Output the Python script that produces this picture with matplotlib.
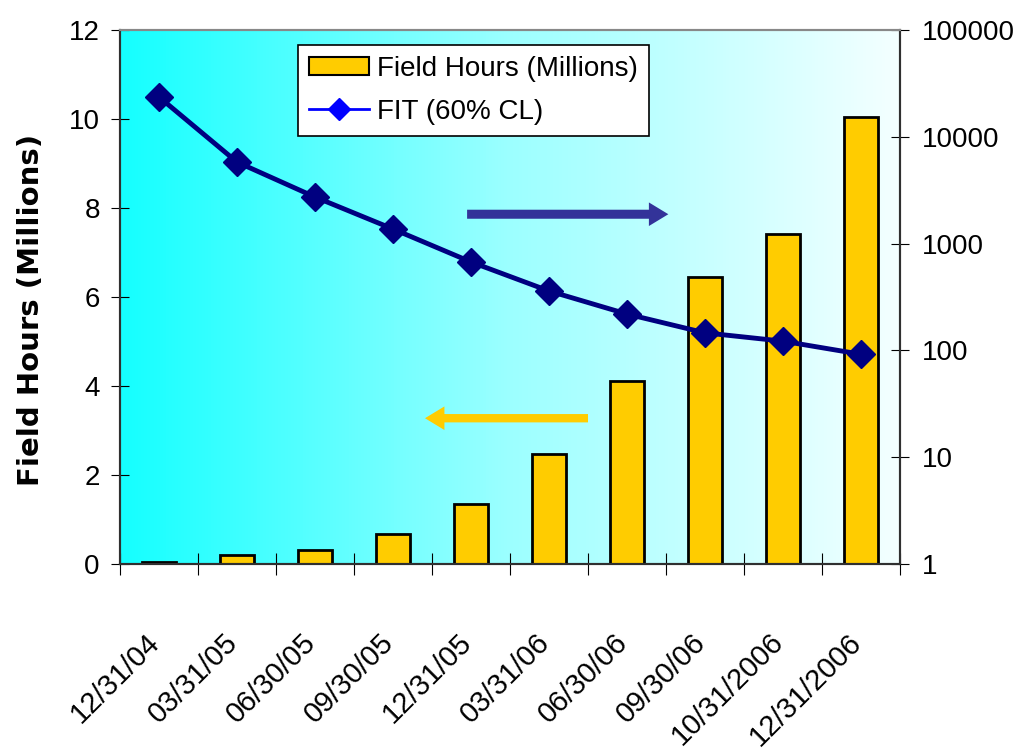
import numpy as np
import matplotlib.pyplot as plt
from matplotlib.colors import LinearSegmentedColormap
from matplotlib.lines import Line2D
from matplotlib.patches import Patch
from matplotlib.ticker import FixedLocator, NullLocator
from matplotlib.transforms import ScaledTranslation

plt.rcParams['font.family'] = ['Liberation Sans', 'DejaVu Sans']

dates = ['12/31/04', '03/31/05', '06/30/05', '09/30/05', '12/31/05',
         '03/31/06', '06/30/06', '09/30/06', '10/31/2006', '12/31/2006']
field_hours = [0.05, 0.2, 0.31, 0.67, 1.35, 2.47, 4.11, 6.45, 7.42, 10.05]
fit = [23600, 5800, 2730, 1370, 673, 360, 219, 146, 122, 92]

x = np.arange(len(dates))

fig = plt.figure(figsize=(10.19, 7.49), dpi=100)
ax = fig.add_axes([120/1019, 1 - 564/749, 780/1019, 534/749])

# background gradient cyan -> white
cmap = LinearSegmentedColormap.from_list('bg', ['#14ffff', '#9cffff', '#f4ffff'])
grad = np.linspace(0, 1, 256).reshape(1, -1)
ax.imshow(grad, aspect='auto', cmap=cmap, extent=[0, 1, 0, 1],
          transform=ax.transAxes, zorder=0)

ax.bar(x, field_hours, width=0.44, color='#ffcc00', edgecolor='black',
       linewidth=2, zorder=2)
ax.set_xlim(-0.5, len(dates) - 0.5)
ax.set_ylim(0, 12)
ax.set_yticks(range(0, 13, 2))
ax.set_ylabel('Field Hours (Millions)', fontsize=21, fontweight='bold',
              family='DejaVu Sans')
ax.yaxis.set_label_coords(-0.096, 0.476)
ax.tick_params(axis='y', direction='inout', length=13, labelsize=20, pad=8)

# x ticks between categories, labels under the bars
ax.xaxis.set_major_locator(FixedLocator(np.arange(-0.5, len(dates), 1)))
ax.xaxis.set_major_formatter(plt.NullFormatter())
ax.xaxis.set_minor_locator(FixedLocator(x))
ax.set_xticklabels(dates, minor=True, rotation=45, ha='right',
                   rotation_mode='anchor', fontsize=21)
ax.tick_params(axis='x', which='major', direction='inout', length=16)
ax.tick_params(axis='x', which='minor', length=0, pad=46)
shift = ScaledTranslation(-14/100, 0, fig.dpi_scale_trans)
for lbl in ax.xaxis.get_minorticklabels():
    lbl.set_transform(lbl.get_transform() + shift)

ax2 = ax.twinx()
ax2.plot(x, fit, color='#000080', linewidth=3.5, marker='D', markersize=14,
         zorder=3)
ax2.set_yscale('log')
ax2.set_ylim(1, 100000)
ax2.yaxis.set_major_locator(FixedLocator([1, 10, 100, 1000, 10000, 100000]))
ax2.yaxis.set_minor_locator(NullLocator())
ax2.set_yticklabels(['1', '10', '100', '1000', '10000', '100000'])
ax2.tick_params(axis='y', direction='inout', length=13, labelsize=20, pad=9)

for a in (ax, ax2):
    for s in a.spines.values():
        s.set_color('#303030')
        s.set_linewidth(1.5)
    a.spines['top'].set_color('#888888')

# arrows
ax2.annotate('', xy=(0.703, 0.655), xytext=(0.445, 0.655),
             xycoords='axes fraction',
             arrowprops=dict(width=6.5, headwidth=17, headlength=14, shrink=0,
                             color='#333399', linewidth=0))
ax2.annotate('', xy=(0.391, 0.273), xytext=(0.6, 0.273),
             xycoords='axes fraction',
             arrowprops=dict(width=6, headwidth=17, headlength=14, shrink=0,
                             color='#ffcc00', linewidth=0))

handles = [Patch(facecolor='#ffcc00', edgecolor='black', linewidth=1.5),
           Line2D([], [], color='#0000ff', linewidth=2, marker='D',
                  markersize=11)]
leg = ax2.legend(handles, ['Field Hours (Millions)', 'FIT (60% CL)'],
                 loc='upper left', bbox_to_anchor=(0.228, 0.972), fontsize=20,
                 fancybox=False, framealpha=1, edgecolor='black',
                 borderaxespad=0, handlelength=2.15, handleheight=0.6,
                 borderpad=0.4, labelspacing=0.6, handletextpad=0.3)
leg.get_frame().set_linewidth(1.2)

fig.savefig('out.png', dpi=100)
